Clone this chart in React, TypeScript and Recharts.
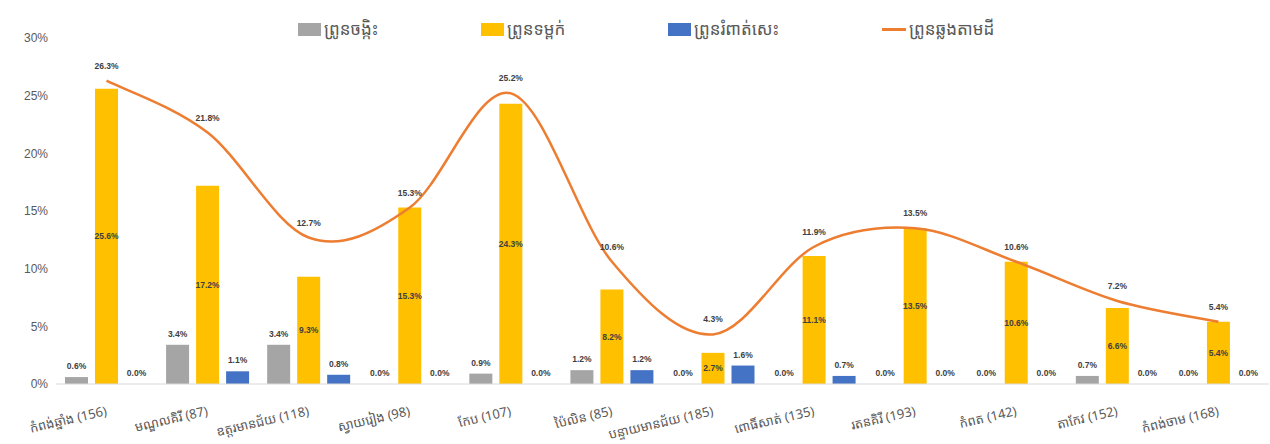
import React from 'react';
import { ComposedChart, Bar, Line, XAxis, YAxis, Legend, LabelList } from 'recharts';

const categories = [
  'កំពង់ឆ្នាំង (156)',
  'មណ្ឌលគិរី (87)',
  'ឧត្ដរមានជ័យ (118)',
  'ស្វាយរៀង (98)',
  'កែប (107)',
  'ប៉ៃលិន (85)',
  'បន្ទាយមានជ័យ (185)',
  'ពោធិ៍សាត់ (135)',
  'រតនគិរី (193)',
  'កំពត (142)',
  'តាកែវ (152)',
  'កំពង់ចាម (168)',
];
const hookworm = [0.6, 3.4, 3.4, 0.0, 0.9, 1.2, 0.0, 0.0, 0.0, 0.0, 0.7, 0.0];
const ascaris = [25.6, 17.2, 9.3, 15.3, 24.3, 8.2, 2.7, 11.1, 13.5, 10.6, 6.6, 5.4];
const trichuris = [0.0, 1.1, 0.8, 0.0, 0.0, 1.2, 1.6, 0.7, 0.0, 0.0, 0.0, 0.0];
const sth = [26.3, 21.8, 12.7, 15.3, 25.2, 10.6, 4.3, 11.9, 13.5, 10.6, 7.2, 5.4];
const yTicks = [0, 5, 10, 15, 20, 25, 30];
const seriesNames = ['ព្រូនចង្កិះ', 'ព្រូនទម្ពក់', 'ព្រូនរំពាត់សេះ', 'ព្រូនឆ្លងតាមដី'];

const COLORS = ['#A5A5A5', '#FFC000', '#4472C4', '#ED7D31'];
const LEGEND_X = [298, 481, 668, 882];

const data = categories.map((c, i) => ({
  name: c,
  hook: hookworm[i],
  asc: ascaris[i],
  tri: trichuris[i],
  sth: sth[i],
}));

const KHMER_FONT = "'Noto Sans Khmer', 'Khmer OS', 'Noto Sans', sans-serif";
const NUM_FONT = "'Liberation Sans Narrow', 'Liberation Sans', Arial, sans-serif";

function excelSmooth(context: any) {
  let pts: number[][] = [];
  return {
    areaStart() {},
    areaEnd() {},
    lineStart() {
      pts = [];
    },
    point(x: number, y: number) {
      pts.push([+x, +y]);
    },
    lineEnd() {
      const n = pts.length;
      if (!n) return;
      context.moveTo(pts[0][0], pts[0][1]);
      for (let i = 0; i < n - 1; i++) {
        const p0 = pts[i - 1] || pts[i];
        const p1 = pts[i];
        const p2 = pts[i + 1];
        const p3 = pts[i + 2] || p2;
        context.bezierCurveTo(
          p1[0] + (p2[0] - p0[0]) / 6,
          p1[1] + (p2[1] - p0[1]) / 6,
          p2[0] - (p3[0] - p1[0]) / 6,
          p2[1] - (p3[1] - p1[1]) / 6,
          p2[0],
          p2[1]
        );
      }
    },
  };
}

const fmt = (v: any) => `${Number(v).toFixed(1)}%`;

const TopLabel = (props: any) => {
  const { x, y, width, value } = props;
  if (x == null || y == null) return null;
  return (
    <text
      x={Number(x) + Number(width) / 2}
      y={Number(y) - 8}
      textAnchor="middle"
      fontSize={8.5}
      fontWeight="bold"
      fill="#404040"
      fontFamily={NUM_FONT}
    >
      {fmt(value)}
    </text>
  );
};

const XTick = (props: any) => {
  const { x, y, payload } = props;
  const tx = x + 1;
  const ty = y + 23;
  return (
    <text
      x={tx}
      y={ty}
      textAnchor="end"
      transform={`rotate(-13, ${tx}, ${ty})`}
      fontSize={13}
      fill="#595959"
      fontFamily={KHMER_FONT}
    >
      {payload.value}
    </text>
  );
};

const renderLegend = () => (
  <div style={{ position: 'relative', height: 0, width: 1270 }}>
    {seriesNames.map((n, i) => (
      <div
        key={n}
        style={{
          position: 'absolute',
          left: LEGEND_X[i],
          top: 16,
          height: 26,
          display: 'flex',
          alignItems: 'center',
          whiteSpace: 'nowrap',
        }}
      >
        {i < 3 ? (
          <span style={{ display: 'inline-block', width: 23, height: 13, background: COLORS[i], marginRight: 3 }} />
        ) : (
          <span style={{ display: 'inline-block', width: 24, height: 3, background: COLORS[i], marginRight: 3 }} />
        )}
        <span style={{ fontFamily: KHMER_FONT, fontSize: 17, color: '#595959', lineHeight: '26px' }}>{n}</span>
      </div>
    ))}
  </div>
);

export default function App() {
  return (
    <div style={{ position: 'absolute', left: 0, top: 0, background: '#fff' }}>
      <ComposedChart
        width={1270}
        height={444}
        data={data}
        margin={{ top: 38, right: 1, left: 10, bottom: 0 }}
        barGap={7}
      >
        <XAxis
          dataKey="name"
          interval={0}
          tick={<XTick />}
          tickLine={false}
          axisLine={{ stroke: '#D9D9D9' }}
          height={60}
        />
        <YAxis
          domain={[0, 30]}
          ticks={yTicks}
          tickFormatter={(v: number) => `${v}%`}
          axisLine={false}
          tickLine={false}
          width={46}
          tick={{ fontSize: 12, fill: '#595959', fontFamily: NUM_FONT }}
        />
        <Legend
          verticalAlign="top"
          wrapperStyle={{ top: 0, left: 0, width: 1270, height: 0 }}
          content={renderLegend}
        />
        <Bar dataKey="hook" name={seriesNames[0]} fill={COLORS[0]} barSize={23} minPointSize={0.01} isAnimationActive={false}>
          <LabelList dataKey="hook" content={<TopLabel />} />
        </Bar>
        <Bar dataKey="asc" name={seriesNames[1]} fill={COLORS[1]} barSize={23} isAnimationActive={false}>
          <LabelList dataKey="asc" position="center" formatter={fmt} fontSize={8.5} fontWeight="bold" fill="#404040" fontFamily={NUM_FONT} />
        </Bar>
        <Bar dataKey="tri" name={seriesNames[2]} fill={COLORS[2]} barSize={23} minPointSize={0.01} isAnimationActive={false}>
          <LabelList dataKey="tri" content={<TopLabel />} />
        </Bar>
        <Line
          dataKey="sth"
          name={seriesNames[3]}
          stroke={COLORS[3]}
          strokeWidth={2.5}
          dot={false}
          type={excelSmooth as any}
          isAnimationActive={false}
        >
          <LabelList dataKey="sth" position="top" offset={12} formatter={fmt} fontSize={8.5} fontWeight="bold" fill="#404040" fontFamily={NUM_FONT} />
        </Line>
      </ComposedChart>
    </div>
  );
}
